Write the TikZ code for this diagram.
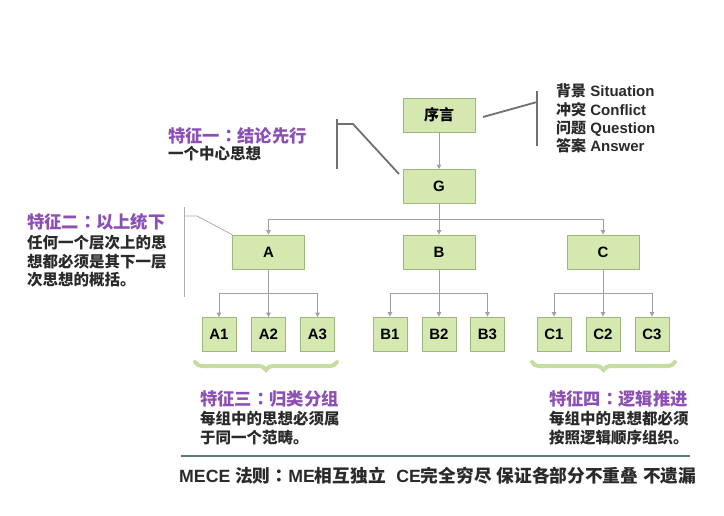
\documentclass[tikz,border=0pt]{standalone}
\usepackage{fontspec}
\setmainfont{Liberation Sans}
\newfontfamily\cjk{Noto Sans CJK SC}
\newfontfamily\cjktc{Noto Sans CJK TC}
\newcommand\ccolon{{\cjktc ：}}
\usetikzlibrary{arrows.meta,decorations.pathreplacing}
\definecolor{boxfill}{HTML}{D5E8B0}
\definecolor{boxline}{HTML}{9DB87C}
\definecolor{conn}{HTML}{A0A0A0}
\definecolor{purp}{HTML}{8C4FB4}
\definecolor{txt}{HTML}{2A2A2A}
\definecolor{brk}{HTML}{707070}
\definecolor{bracecol}{HTML}{C4DEA2}
\definecolor{sep}{HTML}{5E7681}
\begin{document}
\begin{tikzpicture}[x=1pt,y=-1pt,
  box/.style={draw=boxline, fill=boxfill, line width=0.8pt, minimum width=72pt, minimum height=34pt, inner sep=0pt, font=\bfseries\fontsize{15}{15}\selectfont, text=black},
  sbox/.style={box, minimum width=34pt},
  arr/.style={draw=conn, line width=0.8pt, -{Triangle[width=4.5pt,length=4.5pt]}},
  bracket/.style={draw=brk, line width=1.8pt},
  lbracket/.style={draw=conn!85, line width=0.8pt},
  ttl/.style={anchor=west, inner sep=0pt, text=purp, font=\cjk\bfseries\fontsize{17.3}{17.3}\selectfont},
  body/.style={anchor=west, inner sep=0pt, align=left, text=txt, font=\cjk\bfseries\fontsize{15.5}{18.5}\selectfont},
  bracestyle/.style={draw=bracecol, line width=4pt, line cap=round, decorate, decoration={brace, amplitude=8pt, mirror}}
]
\useasboundingbox[fill=white] (0,0) rectangle (724,515);

% boxes
\node[box] (xy) at (439,115) {\cjk\bfseries 序言};
\node[box] (G) at (439,186.5) {G};
\node[box] (A) at (268.5,252) {A};
\node[box] (B) at (439,252) {B};
\node[box] (C) at (603,252) {C};
\node[sbox] (A1) at (219,334.5) {A1};
\node[sbox] (A2) at (268.5,334.5) {A2};
\node[sbox] (A3) at (317.5,334.5) {A3};
\node[sbox] (B1) at (390,334) {B1};
\node[sbox] (B2) at (439,334) {B2};
\node[sbox] (B3) at (487.5,334) {B3};
\node[sbox] (C1) at (554,334) {C1};
\node[sbox] (C2) at (603,334) {C2};
\node[sbox] (C3) at (652,334) {C3};

% tree connectors
\draw[arr] (xy.south) -- (G.north);
\coordinate (gbus) at (439,219);
\draw[arr] (G.south) -- (gbus) -| (A.north);
\draw[arr] (G.south) -- (B.north);
\draw[arr] (gbus) -| (C.north);
\coordinate (abus) at (268.5,293);
\draw[arr] (A.south) -- (abus) -| (A1.north);
\draw[arr] (abus) -- (A2.north);
\draw[arr] (abus) -| (A3.north);
\coordinate (bbus) at (439,293);
\draw[arr] (B.south) -- (bbus) -| (B1.north);
\draw[arr] (bbus) -- (B2.north);
\draw[arr] (bbus) -| (B3.north);
\coordinate (cbus) at (603,293);
\draw[arr] (C.south) -- (cbus) -| (C1.north);
\draw[arr] (cbus) -- (C2.north);
\draw[arr] (cbus) -| (C3.north);

% bracket for 序言
\coordinate (q1) at (483,117);
\coordinate (q2) at (537,102);
\coordinate (qt) at (537,91);
\coordinate (qb) at (537,146);
\draw[bracket] (q1) -- (q2);
\draw[bracket] (qt) -- (qb);
\node[anchor=west, inner sep=0pt, align=left, text=txt, font=\bfseries\fontsize{15}{18.3}\selectfont] (sit) at (556,118.5)
  {{\cjk 背景} Situation\\{\cjk 冲突} Conflict\\{\cjk 问题} Question\\{\cjk 答案} Answer};

% bracket for feature 1
\coordinate (p1) at (337,119);
\coordinate (p2) at (337,169);
\coordinate (p3) at (337,124);
\coordinate (p4) at (353,124);
\coordinate (p5) at (399,174);
\draw[bracket] (p1) -- (p2);
\draw[bracket] (p3) -- (p4) -- (p5);
\node[ttl] (f1) at (168,136) {特征一\ccolon 结论先行};
\node[body] (f1b) at (168,153.5) {一个中心思想};

% bracket for feature 2
\coordinate (r1) at (184,207);
\coordinate (r2) at (184,297);
\coordinate (r3) at (184,216);
\coordinate (r4) at (197,216);
\draw[lbracket] (r1) -- (r2);
\draw[lbracket] (r3) -- (r4) -- (A.north west);
\node[ttl] (f2) at (27,222) {特征二\ccolon 以上统下};
\node[body] (f2b) at (27,261.5) {任何一个层次上的思\\想都必须是其下一层\\次思想的概括。};

% braces
\coordinate (ba1) at (195,362);
\coordinate (ba2) at (337,362);
\draw[bracestyle] (ba1) -- (ba2);
\coordinate (bc1) at (532,362);
\coordinate (bc2) at (675,362);
\draw[bracestyle] (bc1) -- (bc2);

\node[ttl] (f3) at (200,399) {特征三\ccolon 归类分组};
\node[body] (f3b) at (200,428) {每组中的思想必须属\\于同一个范畴。};
\node[ttl] (f4) at (549,399) {特征四\ccolon 逻辑推进};
\node[body] (f4b) at (549,428) {每组中的思想都必须\\按照逻辑顺序组织。};

% separator and MECE rule
\coordinate (s1) at (181,456);
\coordinate (s2) at (690,456);
\draw[draw=sep, line width=1.5pt] (s1) -- (s2);
\node[anchor=west, inner sep=0pt, text=txt, font=\bfseries\fontsize{17.7}{17.7}\selectfont] (mece) at (179,476)
  {MECE {\cjk 法则}\ccolon ME{\cjk 相互独立}\hspace{0.6em}CE{\cjk 完全穷尽} {\cjk 保证各部分不重叠} {\cjk 不遗漏}};
\end{tikzpicture}
\end{document}
